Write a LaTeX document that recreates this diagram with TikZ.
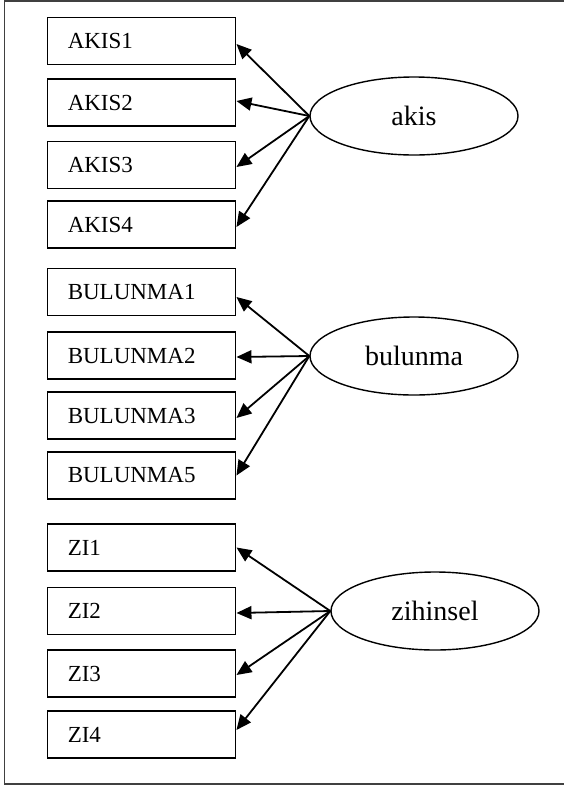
\documentclass[tikz,border=0pt]{standalone}
\usepackage{fontspec}
\setmainfont{Liberation Serif}
\usetikzlibrary{shapes.geometric,arrows.meta}

\begin{document}
\begin{tikzpicture}[x=1pt,y=-1pt,
  itembox/.style={draw=black,line width=1.4pt,rectangle,minimum height=47pt,
    inner xsep=20.5pt,inner ysep=0pt,text width=147.5pt,align=left,
    font=\fontsize{23}{27}\selectfont},
  factor/.style={draw=black,line width=1.4pt,ellipse,minimum width=208pt,
    minimum height=78pt,inner sep=0pt,font=\fontsize{28}{32}\selectfont},
  load/.style={line width=1.8pt,-{Triangle[length=15pt,width=13pt]}},
  frameline/.style={draw=black!75,line width=1.5pt}]
  \useasboundingbox (0,0) rectangle (563,788);
  % outer frame
  \draw[frameline] (4.5,1) rectangle (570,784);

  % indicator boxes
  \node[itembox] (a1) at (141.5,41)    {AKIS1};
  \node[itembox] (a2) at (141.5,102.5) {AKIS2};
  \node[itembox] (a3) at (141.5,165)   {AKIS3};
  \node[itembox] (a4) at (141.5,224.5) {AKIS4};
  \node[itembox] (b1) at (141.5,292)   {BULUNMA1};
  \node[itembox] (b2) at (141.5,355.5) {BULUNMA2};
  \node[itembox] (b3) at (141.5,415.5) {BULUNMA3};
  \node[itembox] (b5) at (141.5,475.5) {BULUNMA5};
  \node[itembox] (z1) at (141.5,547.5) {ZI1};
  \node[itembox] (z2) at (141.5,611)   {ZI2};
  \node[itembox] (z3) at (141.5,673.5) {ZI3};
  \node[itembox] (z4) at (141.5,734.5) {ZI4};

  % latent factors
  \node[factor] (akis) at (414,116) {akis};
  \node[factor] (bul)  at (414,356) {bulunma};
  \node[factor] (zih)  at (435,611) {zihinsel};

  % loadings
  \draw[load] (akis.west) -- ([yshift=-3pt]a1.east);
  \draw[load] (akis.west) -- ([yshift=1.5pt]a2.east);
  \draw[load] (akis.west) -- ([yshift=-2pt]a3.east);
  \draw[load] (akis.west) -- ([yshift=-2.5pt]a4.east);
  \draw[load] (bul.west) -- ([yshift=-5pt]b1.east);
  \draw[load] (bul.west) -- ([yshift=-1.5pt]b2.east);
  \draw[load] (bul.west) -- ([yshift=-2.5pt]b3.east);
  \draw[load] (bul.west) -- (b5.east);
  \draw[load] (zih.west) -- (z1.east);
  \draw[load] (zih.west) -- ([yshift=-2pt]z2.east);
  \draw[load] (zih.west) -- ([yshift=-1.5pt]z3.east);
  \draw[load] (zih.west) -- ([yshift=4.5pt]z4.east);
\end{tikzpicture}
\end{document}
